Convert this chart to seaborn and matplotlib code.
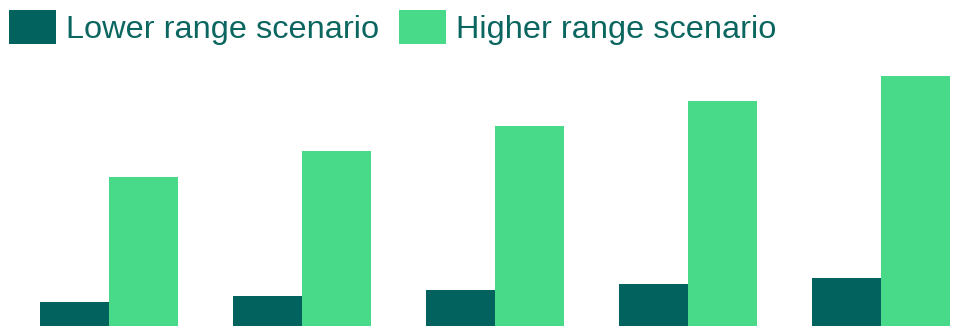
import matplotlib
matplotlib.use("Agg")
import matplotlib.pyplot as plt
import seaborn as sns
import pandas as pd

categories = ["1", "2", "3", "4", "5"]
lower_values = [24, 30, 36, 42, 48]
higher_values = [149, 175, 200, 225, 250]
series_names = ["Lower range scenario", "Higher range scenario"]

sns.set_style("white")
plt.rcParams['font.family'] = ['Liberation Sans', 'DejaVu Sans']

df = pd.DataFrame({
    "cat": categories * 2,
    "value": lower_values + higher_values,
    "series": [series_names[0]] * len(categories) + [series_names[1]] * len(categories),
})

fig = plt.figure(figsize=(9.62, 3.26), dpi=100)
ax = fig.add_axes([0, 0, 1, 1])
sns.barplot(data=df, x="cat", y="value", hue="series", ax=ax,
            palette=["#02635E", "#48DA88"], width=0.715, gap=0,
            saturation=1, linewidth=0, legend=True)
ax.set_xlim(-0.565, 4.42)
ax.set_ylim(0, 326)
ax.axis("off")

handles, labels = ax.get_legend_handles_labels()
ax.get_legend().remove()
leg = fig.legend(handles, labels, loc="upper left", bbox_to_anchor=(9 / 962, 1 - 10 / 326),
                 ncol=2, frameon=False, fontsize=23.4, handlelength=1.45, handleheight=1.25,
                 handletextpad=0.31, columnspacing=0.6, borderpad=0, borderaxespad=0)
for t in leg.get_texts():
    t.set_color("#0B6660")

fig.savefig("out.png", dpi=100)
